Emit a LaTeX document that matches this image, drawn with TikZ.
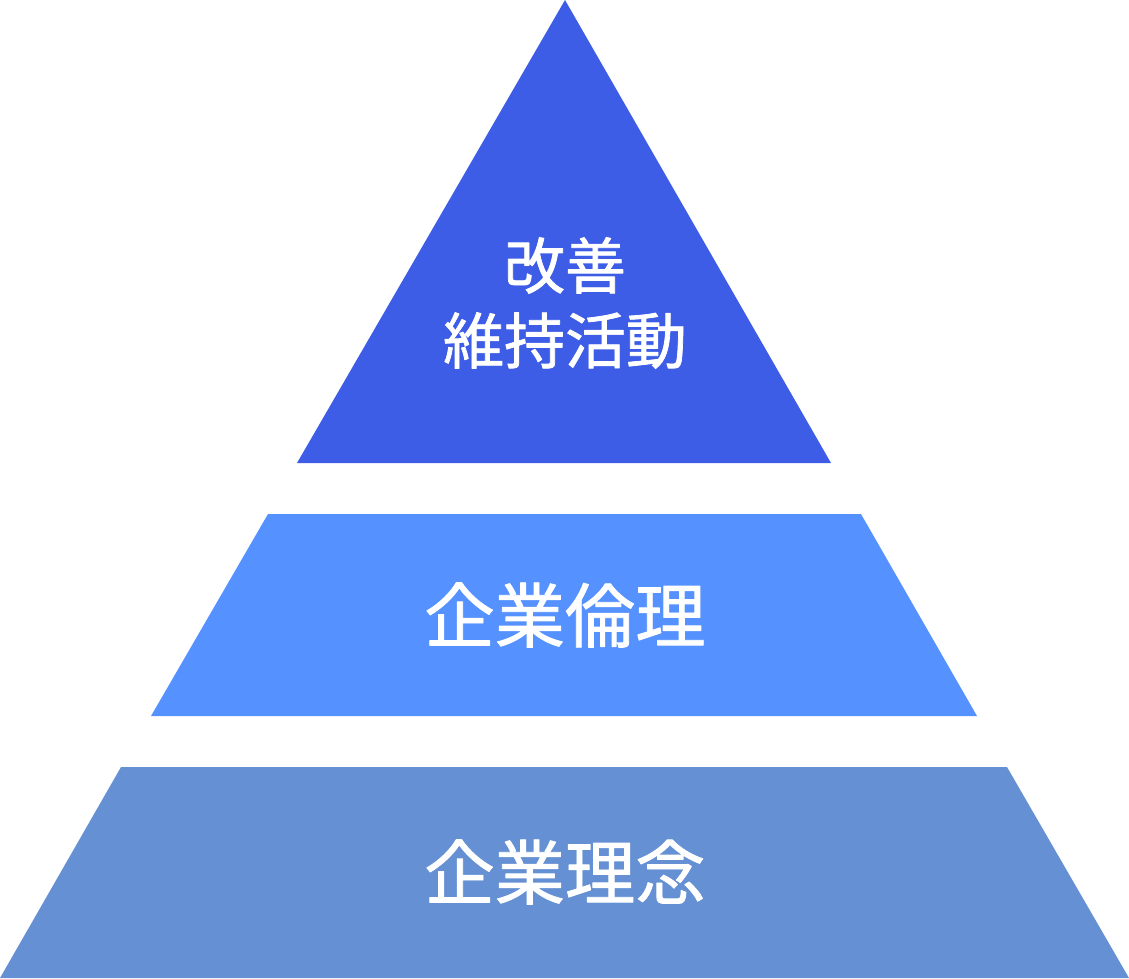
\documentclass[tikz,border=0pt]{standalone}
\usepackage{fontspec}
\newfontfamily\jpfont[FakeBold=1.2]{Noto Sans CJK JP}
\definecolor{topblue}{RGB}{61,93,230}
\definecolor{midblue}{RGB}{85,146,255}
\definecolor{lowblue}{RGB}{101,145,212}
\tikzset{
	layertext/.style={text=white, align=center, font=\jpfont},
}
\begin{document}
\begin{tikzpicture}[x=0.03cm, y=-0.03cm, line join=round]
	\useasboundingbox (0,0) rectangle (1129,978);
	\path
	(565,0) coordinate (T)
	(297,463) coordinate (T1) (831,463) coordinate (T2)
	(268,514) coordinate (M1) (861,514) coordinate (M2)
	(151,716) coordinate (M3) (977,716) coordinate (M4)
	(121,767) coordinate (L1) (1007,767) coordinate (L2)
	(0,978) coordinate (L3) (1129,978) coordinate (L4)
	;
	\fill[topblue] (T)--(T2)--(T1)--cycle;
	\fill[midblue] (M1)--(M2)--(M4)--(M3)--cycle;
	\fill[lowblue] (L1)--(L2)--(L4)--(L3)--cycle;
	\node[layertext, font=\jpfont\fontsize{52}{64}\selectfont] (kaizen) at (565,303) {改善\\維持活動};
	\node[layertext, font=\jpfont\fontsize{60}{70}\selectfont] (rinri) at (565,615) {企業倫理};
	\node[layertext, font=\jpfont\fontsize{60}{70}\selectfont] (rinen) at (565,872) {企業理念};
\end{tikzpicture}
\end{document}
